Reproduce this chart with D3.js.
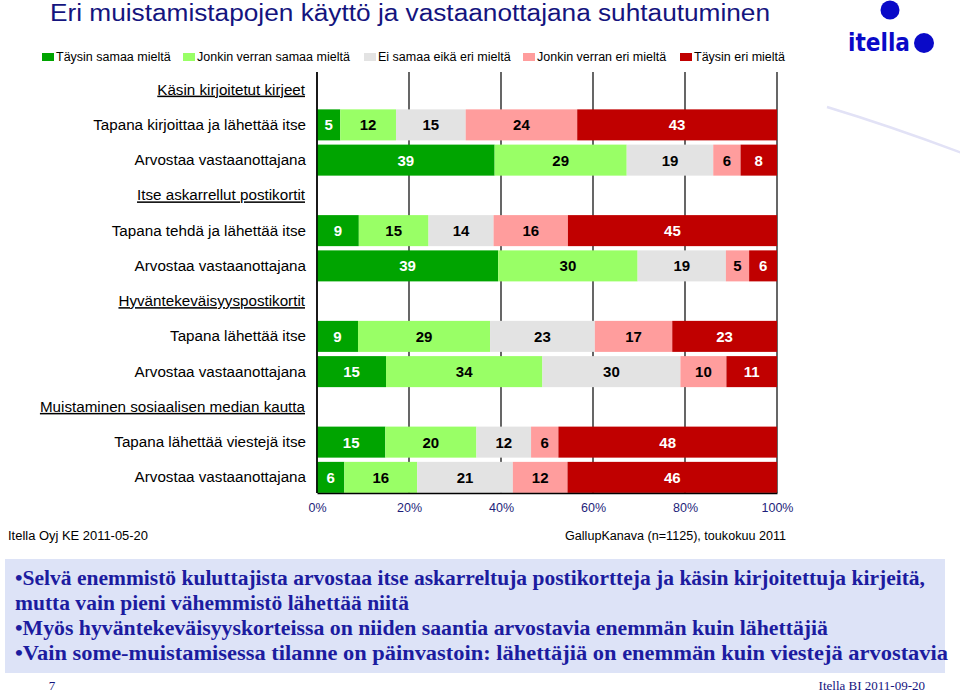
<!DOCTYPE html>
<html><head><meta charset="utf-8">
<script src="https://cdn.jsdelivr.net/npm/d3@7"></script>
<style>
body{margin:0;background:#fff;}
svg{display:block;}
</style></head>
<body>
<svg id="c" width="960" height="694"></svg>
<script>
// ---- data ----
const categories = [
  "Käsin kirjoitetut kirjeet",
  "Tapana kirjoittaa ja lähettää itse",
  "Arvostaa vastaanottajana",
  "Itse askarrellut postikortit",
  "Tapana tehdä ja lähettää itse",
  "Arvostaa vastaanottajana",
  "Hyväntekeväisyyspostikortit",
  "Tapana lähettää itse",
  "Arvostaa vastaanottajana",
  "Muistaminen sosiaalisen median kautta",
  "Tapana lähettää viestejä itse",
  "Arvostaa vastaanottajana"
];
const isHeader = [true,false,false,true,false,false,true,false,false,true,false,false];
const seriesNames = ["Täysin samaa mieltä","Jonkin verran samaa mieltä","Ei samaa eikä eri mieltä","Jonkin verran eri mieltä","Täysin eri mieltä"];
const taysinSamaa   = [null, 5,39,null, 9,39,null, 9,15,null,15, 6];
const jonkinSamaa   = [null,12,29,null,15,30,null,29,34,null,20,16];
const eiSamaaEikaEri= [null,15,19,null,14,19,null,23,30,null,12,21];
const jonkinEri     = [null,24, 6,null,16, 5,null,17,10,null, 6,12];
const taysinEri     = [null,43, 8,null,45, 6,null,23,11,null,48,46];
const xTicks = [0,0.2,0.4,0.6,0.8,1.0];
const bulletLines = [
  "•Selvä enemmistö kuluttajista arvostaa itse askarreltuja postikortteja ja käsin kirjoitettuja kirjeitä,",
  "mutta vain pieni vähemmistö lähettää niitä",
  "•Myös hyväntekeväisyyskorteissa on niiden saantia arvostavia enemmän kuin lähettäjiä",
  "•Vain some-muistamisessa tilanne on päinvastoin: lähettäjiä on enemmän kuin viestejä arvostavia"
];

const colors = ["#00a400","#99ff66","#e3e3e3","#ff9d9d","#c00000"];
const textColors = ["#fff","#000","#000","#000","#fff"];
const series = [taysinSamaa,jonkinSamaa,eiSamaaEikaEri,jonkinEri,taysinEri];

const svg = d3.select("#c");
const SANS = "'Liberation Sans', Arial, sans-serif";
const SERIF = "'Liberation Serif', 'Times New Roman', serif";

// decorative swoosh
svg.append("path").attr("d","M827,107 Q890,126 962,153").attr("fill","none")
  .attr("stroke","#e2e2f6").attr("stroke-width",2.5);

// title
svg.append("text").attr("x",50).attr("y",21).attr("font-family",SANS).attr("font-size",23.5)
  .attr("fill","#14147e").attr("textLength",720).attr("lengthAdjust","spacingAndGlyphs")
  .text("Eri muistamistapojen käyttö ja vastaanottajana suhtautuminen");

// logo
svg.append("circle").attr("cx",890).attr("cy",10).attr("r",9.5).attr("fill","#0a0ac8");
svg.append("text").attr("x",848).attr("y",51).attr("font-family","'DejaVu Sans', sans-serif").attr("font-weight","bold")
  .attr("font-size",25).attr("fill","#0a0ac8").attr("textLength",62).attr("lengthAdjust","spacingAndGlyphs").text("itella");
svg.append("circle").attr("cx",924).attr("cy",43).attr("r",10).attr("fill","#0a0ac8");

// legend
const legX = [42,183,364,523,680];
const leg = svg.append("g");
seriesNames.forEach((n,i)=>{
  leg.append("rect").attr("x",legX[i]).attr("y",53).attr("width",12).attr("height",8).attr("fill",colors[i]);
  leg.append("text").attr("x",legX[i]+14).attr("y",61).attr("font-family",SANS).attr("font-size",12.5)
    .attr("fill","#000").text(n);
});

// scales
const x = d3.scaleLinear().domain([0,1]).range([317,777]);
const y = d3.scaleBand().domain(d3.range(categories.length)).range([72,495]).paddingInner(0.12).paddingOuter(0.06);
const plotTop = 72;
const plotBottom = y(categories.length-1)+y.bandwidth();

// grid lines
const g = svg.append("g");
g.selectAll("line.grid").data(xTicks).join("line")
  .attr("x1",d=>x(d)).attr("x2",d=>x(d)).attr("y1",plotTop).attr("y2",plotBottom)
  .attr("stroke","#000").attr("stroke-width",1.2);

// bars
categories.forEach((c,r)=>{
  if(isHeader[r]) return;
  const vals = series.map(s=>s[r]);
  const total = d3.sum(vals);
  let acc = 0;
  vals.forEach((v,i)=>{
    const x0 = x(acc/total), x1 = x((acc+v)/total);
    g.append("rect").attr("x",x0).attr("y",y(r)).attr("width",x1-x0).attr("height",y.bandwidth()).attr("fill",colors[i]);
    g.append("text").attr("x",(x0+x1)/2).attr("y",y(r)+y.bandwidth()/2+5.5).attr("text-anchor","middle")
      .attr("font-family",SANS).attr("font-weight","bold").attr("font-size",15).attr("fill",textColors[i]).text(v);
    acc += v;
  });
});

// axes
const xAxis = d3.axisBottom(x).tickValues(xTicks).tickFormat(d3.format(".0%")).tickSize(0).tickPadding(10);
const ax = svg.append("g").attr("transform",`translate(0,${plotBottom})`).call(xAxis);
ax.select(".domain").attr("stroke","#000").attr("stroke-width",1.5);
ax.selectAll("text").attr("font-family",SANS).attr("font-size",12.5).attr("fill","#1e1e7a");
svg.append("line").attr("x1",x(0)).attr("x2",x(0)).attr("y1",plotTop).attr("y2",plotBottom).attr("stroke","#000").attr("stroke-width",1.5);

// category labels
const lab = svg.append("g");
categories.forEach((c,r)=>{
  lab.append("text").attr("x",isHeader[r]?305:306).attr("y",y(r)+y.bandwidth()/2+5).attr("text-anchor","end")
    .attr("font-family",SANS).attr("font-size",15.2).attr("fill","#000")
    .attr("text-decoration",isHeader[r]?"underline":null).text(c);
});

// footer notes
svg.append("text").attr("x",8).attr("y",540).attr("font-family",SANS).attr("font-size",12.5).attr("fill","#000")
  .attr("textLength",140).attr("lengthAdjust","spacingAndGlyphs").text("Itella Oyj KE 2011-05-20");
svg.append("text").attr("x",786).attr("y",540).attr("text-anchor","end").attr("font-family",SANS).attr("font-size",12.5).attr("fill","#000")
  .attr("textLength",221).attr("lengthAdjust","spacingAndGlyphs").text("GallupKanava (n=1125), toukokuu 2011");

// summary box
svg.append("rect").attr("x",5).attr("y",559).attr("width",940).attr("height",114).attr("fill","#dde3f7");
const lineW = [910,394,813,933];
const lineY = [585,610,635,660];
bulletLines.forEach((t,i)=>{
  svg.append("text").attr("x",15).attr("y",lineY[i]).attr("font-family",SERIF).attr("font-weight","bold")
    .attr("font-size",20).attr("fill","#1c1ca0").attr("textLength",lineW[i]).attr("lengthAdjust","spacingAndGlyphs").text(t);
});

// page footer
svg.append("text").attr("x",52).attr("y",690).attr("text-anchor","middle").attr("font-family",SERIF).attr("font-size",13).attr("fill","#14147e").text("7");
svg.append("text").attr("x",925).attr("y",690).attr("text-anchor","end").attr("font-family",SERIF).attr("font-size",13).attr("fill","#14147e").text("Itella BI 2011-09-20");
</script>
</body></html>
